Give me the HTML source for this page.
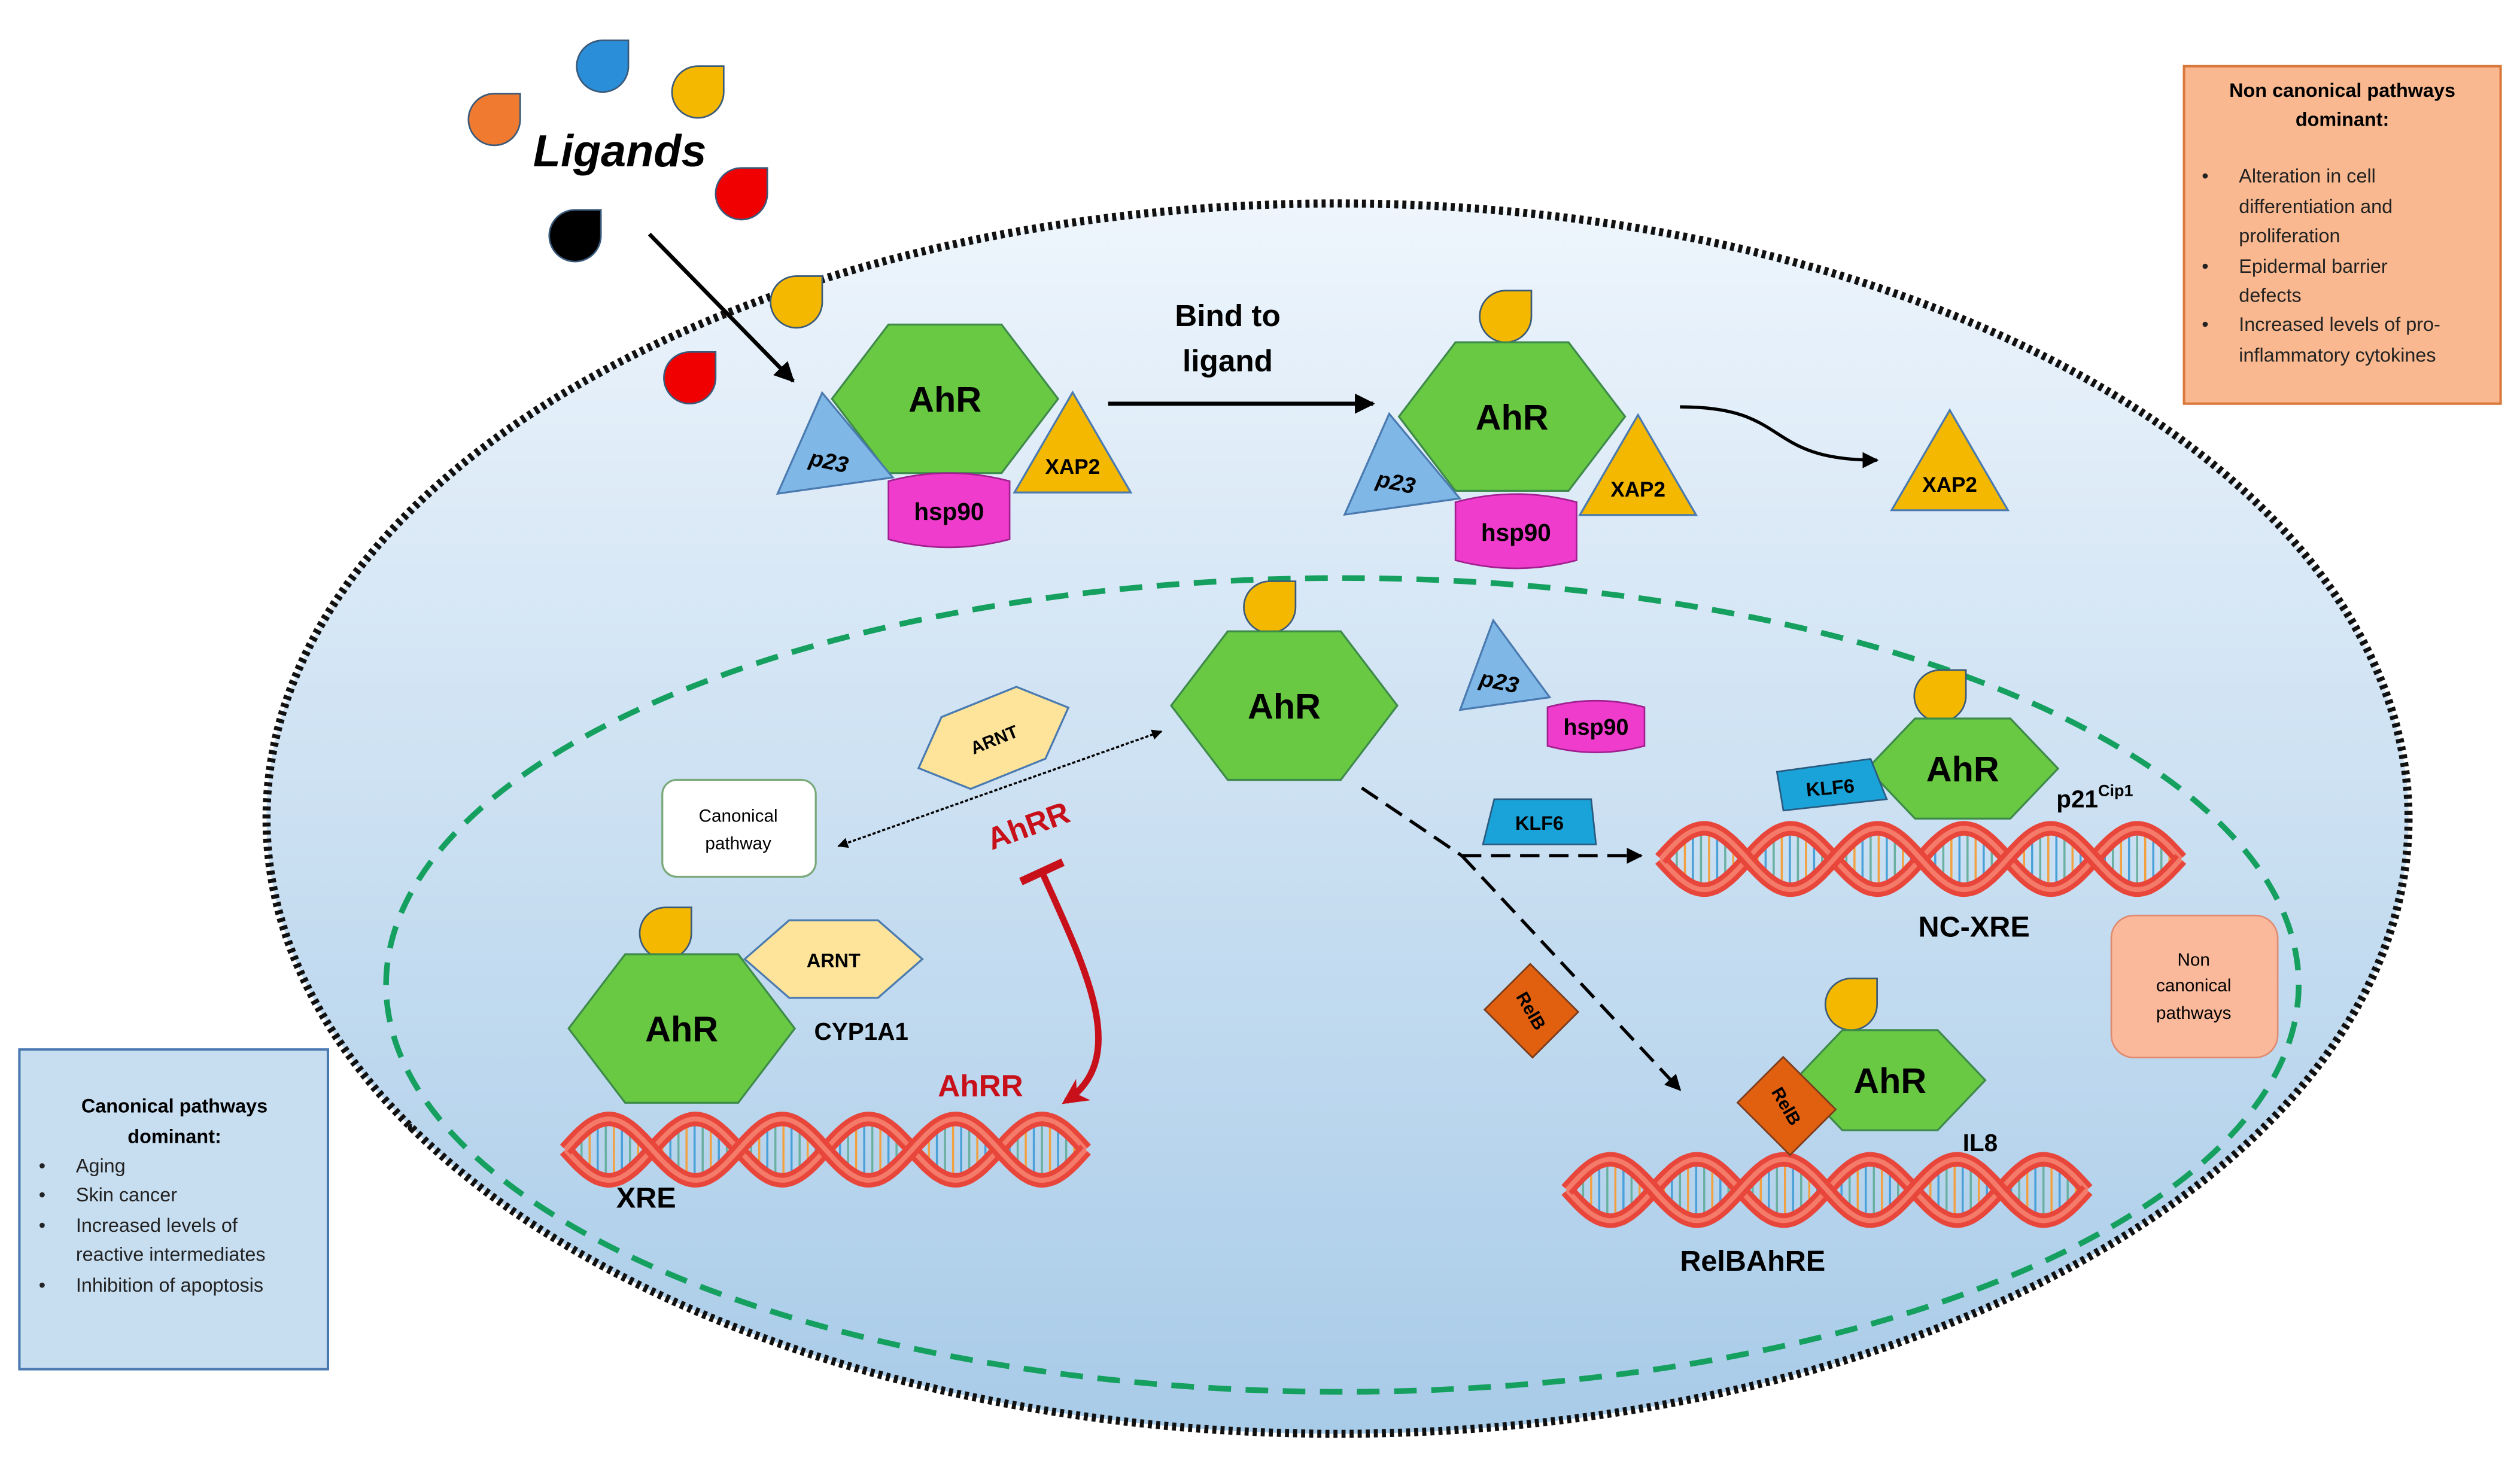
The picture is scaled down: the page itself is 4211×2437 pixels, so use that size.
<!DOCTYPE html>
<html><head><meta charset="utf-8"><style>
html,body{margin:0;padding:0;background:#fff;}
svg{display:block;}
text{font-family:"Liberation Sans",sans-serif;}
</style></head><body>
<svg id="s" width="4211" height="2437" viewBox="0 0 1560 903" preserveAspectRatio="none" xmlns="http://www.w3.org/2000/svg">
<defs>
<linearGradient id="bg" x1="0" y1="0" x2="0" y2="1">
<stop offset="0" stop-color="#eef5fc"/><stop offset="1" stop-color="#a8cbe8"/>
</linearGradient>
<marker id="ar" viewBox="0 0 10 10" refX="9" refY="5" markerWidth="5" markerHeight="5" orient="auto-start-reverse"><path d="M0,0L10,5L0,10z" fill="#000"/></marker>
<marker id="arr" viewBox="0 0 10 10" refX="8" refY="5" markerWidth="4" markerHeight="4" orient="auto"><path d="M0,0L10,5L0,10L3,5z" fill="#c8101a"/></marker>
</defs>
<ellipse cx="828" cy="507" rx="663" ry="381" fill="url(#bg)" stroke="#111" stroke-width="5" stroke-dasharray="2.5 2.5"/>
<ellipse cx="831" cy="610" rx="592" ry="252" fill="none" stroke="#15a060" stroke-width="3.5" stroke-dasharray="14 9"/>

<rect x="1352" y="41" width="196" height="209" fill="#f9b88f" stroke="#d9783a" stroke-width="1.5"/>
<text x="1450" y="60" font-size="12" font-weight="bold" text-anchor="middle">Non canonical  pathways</text>
<text x="1450" y="78" font-size="12" font-weight="bold" text-anchor="middle">dominant:</text>
<g font-size="12" fill="#222">
<text x="1363" y="113">•</text><text x="1386" y="113">Alteration in cell</text>
<text x="1386" y="132">differentiation and</text><text x="1386" y="150">proliferation</text>
<text x="1363" y="169">•</text><text x="1386" y="169">Epidermal barrier</text><text x="1386" y="187">defects</text>
<text x="1363" y="205">•</text><text x="1386" y="205">Increased levels of pro-</text><text x="1386" y="224">inflammatory cytokines</text>
</g>
<rect x="12" y="650" width="191" height="198" fill="#c7ddf0" stroke="#4a78b0" stroke-width="1.5"/>
<text x="108" y="689" font-size="12" font-weight="bold" text-anchor="middle">Canonical pathways</text>
<text x="108" y="708" font-size="12" font-weight="bold" text-anchor="middle">dominant:</text>
<g font-size="12" fill="#222">
<text x="24" y="726">•</text><text x="47" y="726">Aging</text>
<text x="24" y="744">•</text><text x="47" y="744">Skin cancer</text>
<text x="24" y="763">•</text><text x="47" y="763">Increased levels of</text><text x="47" y="781">reactive intermediates</text>
<text x="24" y="800">•</text><text x="47" y="800">Inhibition of apoptosis</text>
</g>

<text x="330" y="103" font-size="28" font-weight="bold" font-style="italic">Ligands</text>
<g id="drops"></g>
<line x1="402" y1="145" x2="491" y2="236" stroke="#000" stroke-width="2.5" marker-end="url(#ar)"/>

<g id="shapes"></g>

<text x="760" y="202" font-size="19" font-weight="bold" text-anchor="middle">Bind to</text>
<text x="760" y="230" font-size="19" font-weight="bold" text-anchor="middle">ligand</text>
<line x1="686" y1="250" x2="850" y2="250" stroke="#000" stroke-width="2.5" marker-end="url(#ar)"/>
<path d="M1040,252 C1110,252 1090,285 1162,285" fill="none" stroke="#000" stroke-width="2" marker-end="url(#ar)"/>

<rect x="410" y="483" width="95" height="60" rx="9" fill="#fff" stroke="#7aa97a" stroke-width="1.2"/>
<text x="457" y="509" font-size="11" text-anchor="middle">Canonical</text>
<text x="457" y="526" font-size="11" text-anchor="middle">pathway</text>
<line x1="519" y1="524" x2="719" y2="453" stroke="#000" stroke-width="1.3" stroke-dasharray="2 1.2" marker-start="url(#ar)" marker-end="url(#ar)"/>

<text x="636" y="518" font-size="19" font-weight="bold" fill="#c8101a" text-anchor="middle" transform="rotate(-20 636 510)">AhRR</text>
<path d="M645,540 C672,600 700,655 660,682" fill="none" stroke="#c8101a" stroke-width="4" marker-end="url(#arr)"/>
<line x1="632" y1="546" x2="658" y2="534" stroke="#c8101a" stroke-width="5"/>
<text x="607" y="679" font-size="19" font-weight="bold" fill="#c8101a" text-anchor="middle">AhRR</text>

<path d="M843,488 L905,530" fill="none" stroke="#000" stroke-width="2" stroke-dasharray="12 6"/>
<line x1="905" y1="530" x2="1016" y2="530" stroke="#000" stroke-width="2" stroke-dasharray="12 6" marker-end="url(#ar)"/>
<line x1="905" y1="530" x2="1040" y2="675" stroke="#000" stroke-width="2" stroke-dasharray="12 6" marker-end="url(#ar)"/>

<rect x="1307" y="567" width="103" height="88" rx="14" fill="#fbb99c" stroke="#e08a70" stroke-width="1"/>
<text x="1358" y="598" font-size="11" text-anchor="middle">Non</text>
<text x="1358" y="614" font-size="11" text-anchor="middle">canonical</text>
<text x="1358" y="631" font-size="11" text-anchor="middle">pathways</text>

<g font-weight="bold" font-size="15">
<text x="504" y="644">CYP1A1</text>
<text x="400" y="748" font-size="18" text-anchor="middle">XRE</text>
<text x="1222" y="580" font-size="18" text-anchor="middle">NC-XRE</text>
<text x="1085" y="787" font-size="18" text-anchor="middle">RelBAhRE</text>
<text x="1215" y="713">IL8</text>
<text x="1273" y="500">p21<tspan font-size="10" dy="-7">Cip1</tspan></text>
</g>
</svg>
<script>
const NS="http://www.w3.org/2000/svg";
const sh=document.getElementById('shapes');
function el(t,a,p){const e=document.createElementNS(NS,t);for(const k in a)e.setAttribute(k,a[k]);(p||sh).appendChild(e);return e;}
function txt(x,y,s,sz,extra){const t=el('text',Object.assign({x:x,y:y,'font-size':sz,'font-weight':'bold','text-anchor':'middle'},extra||{}));t.textContent=s;return t;}
function drop(x,y,r,c,p){el('path',{d:`M${x+r},${y} H${x+2*r} V${y+r} A${r} ${r} 0 1 1 ${x+r} ${y} Z`,fill:c,stroke:'#3a5a7a','stroke-width':1},p);}
function hex(cx,cy,w,h,fill,stroke,rot){const q=w*0.25;const pts=[[cx-w/2,cy],[cx-w/2+q,cy-h/2],[cx+w/2-q,cy-h/2],[cx+w/2,cy],[cx+w/2-q,cy+h/2],[cx-w/2+q,cy+h/2]].map(p=>p.join(',')).join(' ');el('polygon',{points:pts,fill:fill,stroke:stroke,'stroke-width':1.2,transform:rot?`rotate(${rot} ${cx} ${cy})`:''});}
function ahr(cx,cy,w,h,s){hex(cx,cy,w,h,'#69c943','#3e8a4a');txt(cx,cy+8,'AhR',s||22);}
function tri(cx,cy,w,h,fill,label,rot,s){el('polygon',{points:`${cx},${cy-h/2} ${cx+w/2},${cy+h/2} ${cx-w/2},${cy+h/2}`,fill:fill,stroke:'#4a7ab0','stroke-width':1.2,transform:rot?`rotate(${rot} ${cx} ${cy})`:''});txt(cx,cy+h/4+4,label,s||14,{'font-style':label=='p23'?'italic':'normal',transform:label=='p23'?`rotate(12 ${cx} ${cy+h/4})`:''});}
function hsp(x,y,w,h){el('path',{d:`M${x},${y+6} Q${x+w/2},${y-4} ${x+w},${y+6} V${y+h-6} Q${x+w/2},${y+h+4} ${x},${y+h-6} Z`,fill:'#f03ccc',stroke:'#a02090','stroke-width':1});txt(x+w/2,y+h/2+6,'hsp90',15);}
function dna(x,y,w,h){const g=el('g',{});const per=w/3,A=h/2-5,cy=y+h/2;
 for(let i=0;i<=w;i+=5){const y1=cy+A*Math.sin(2*Math.PI*i/per),y2=cy-A*Math.sin(2*Math.PI*i/per);el('line',{x1:x+i,y1:y1,x2:x+i,y2:y2,stroke:(i/5)%3==0?'#f2a040':(i/5)%3==1?'#4aa0d8':'#6ab0a0','stroke-width':1.3},g);}
 for(const sgn of [1,-1]){let d='';for(let i=0;i<=w;i+=2){const yy=cy+sgn*A*Math.sin(2*Math.PI*i/per);d+=(i?'L':'M')+(x+i)+','+yy.toFixed(1);}el('path',{d:d,fill:'none',stroke:'#e8463a','stroke-width':9,'stroke-linecap':'butt'},g);el('path',{d:d,fill:'none',stroke:'#f47a6a','stroke-width':3},g);}
}
const dg=document.getElementById('drops');
drop(357,25,16,'#2a8fd8',dg);drop(416,41,16,'#f5b800',dg);drop(290,58,16,'#f07a30',dg);drop(443,104,16,'#f00000',dg);drop(340,130,16,'#000',dg);drop(477,171,16,'#f5b800',dg);drop(411,218,16,'#f00000',dg);
ahr(585,247,140,92);tri(513,272,72,58,'#7fb8e6','p23',-8);tri(664,274,72,62,'#f5b800','XAP2',0,13);hsp(550,292,75,48);
drop(916,180,16,'#f5b800');ahr(936,258,140,92);tri(864,285,72,58,'#7fb8e6','p23',-8);tri(1014,288,72,62,'#f5b800','XAP2',0,13);hsp(901,305,75,48);
tri(1207,285,72,62,'#f5b800','XAP2',0,13);
drop(770,360,16,'#f5b800');ahr(795,437,140,92);tri(928,410,56,52,'#7fb8e6','p23',-8);
el('path',{d:'M958,438 Q988,430 1018,438 V462 Q988,470 958,462Z',fill:'#f03ccc',stroke:'#a02090'});txt(988,455,'hsp90',14);
hex(615,457,100,48,'#fde49a','#4a7ab0',-22);txt(615,462,'ARNT',11,{transform:'rotate(-22 615 457)'});
dna(350,688,322,48);
hex(516,594,110,48,'#fde49a','#4a7ab0');txt(516,599,'ARNT',12);
drop(396,562,16,'#f5b800');ahr(422,637,140,92);
el('polygon',{points:'925,495 985,495 988,523 918,523',fill:'#1aa3d8',stroke:'#2a5a80'});txt(953,514,'KLF6',12);
dna(1028,508,322,48);
drop(1185,415,16,'#f5b800');ahr(1215,476,118,62);
el('polygon',{points:'1100,478 1158,470 1168,495 1104,502',fill:'#1aa3d8',stroke:'#2a5a80'});txt(1133,492,'KLF6',12,{transform:'rotate(-5 1133 488)'});
el('rect',{x:927,y:606,width:42,height:40,fill:'#e06010',stroke:'#7a3a1a',transform:'rotate(45 948 626)'});txt(948,630,'RelB',11,{transform:'rotate(60 948 626)'});
dna(970,713,322,48);
drop(1130,606,16,'#f5b800');ahr(1170,669,118,62);
el('rect',{x:1083,y:665,width:46,height:40,fill:'#e06010',stroke:'#7a3a1a',transform:'rotate(45 1106 685)'});txt(1106,689,'RelB',11,{transform:'rotate(60 1106 685)'});
</script>
</body></html>
